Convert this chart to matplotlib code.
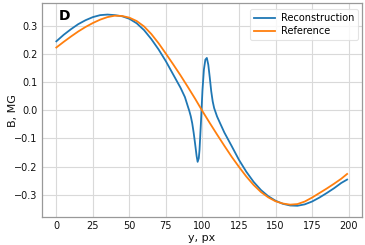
import matplotlib
matplotlib.use("Agg")
import matplotlib.pyplot as plt

# Reconstruction (blue)
rec_x = [0, 5, 10, 15, 20, 25, 30, 35, 40, 45, 50, 55, 60, 65, 70, 75, 80, 85, 88,
         90, 91, 92, 93, 94, 95, 96, 96.7, 97.5, 98, 99, 100, 101, 102, 103, 104,
         105, 106, 107, 108, 110, 112, 115, 120, 125, 130, 135, 140, 145, 150, 155,
         160, 165, 170, 175, 180, 185, 190, 195, 199]
rec_y = [0.245, 0.268, 0.288, 0.306, 0.320, 0.331, 0.338, 0.340, 0.338, 0.334, 0.325,
         0.309, 0.285, 0.253, 0.216, 0.174, 0.127, 0.080, 0.047,
         0.014, -0.002, -0.021, -0.046, -0.080, -0.120, -0.162, -0.183, -0.170,
         -0.140, -0.040, 0.070, 0.145, 0.180, 0.186, 0.162,
         0.117, 0.068, 0.032, 0.008, -0.022, -0.045, -0.079, -0.127, -0.176, -0.218,
         -0.254, -0.283, -0.305, -0.321, -0.332,
         -0.338, -0.339, -0.334, -0.324, -0.310, -0.294, -0.277, -0.258, -0.246]

# Reference (orange)
ref_x = [0, 5, 10, 15, 20, 25, 30, 35, 40, 45, 50, 55, 60, 65, 70, 75, 80, 85, 90,
         95, 100, 105, 110, 115, 120, 125, 130, 135, 140, 145, 150, 155, 160, 165,
         170, 175, 180, 185, 190, 195, 199]
ref_y = [0.223, 0.243, 0.262, 0.280, 0.296, 0.310, 0.322, 0.331, 0.336, 0.335, 0.329,
         0.317, 0.298, 0.271, 0.238, 0.201, 0.163, 0.124, 0.083,
         0.041, -0.003, -0.045, -0.086, -0.126, -0.165, -0.201, -0.235, -0.265,
         -0.290, -0.309, -0.323, -0.331, -0.335, -0.333,
         -0.324, -0.310, -0.294, -0.278, -0.261, -0.243, -0.226]

x_ticks = [0, 25, 50, 75, 100, 125, 150, 175, 200]
y_ticks = [-0.3, -0.2, -0.1, 0.0, 0.1, 0.2, 0.3]

plt.rcParams['font.family'] = ['DejaVu Sans']
fig = plt.figure(figsize=(3.65, 2.45), dpi=100)
ax = fig.add_axes([0.1143, 0.113, 0.8767, 0.8735])

ax.plot(rec_x, rec_y, color='#1f77b4', lw=1.3, label='Reconstruction')
ax.plot(ref_x, ref_y, color='#ff7f0e', lw=1.3, label='Reference')

ax.set_xticks(x_ticks)
ax.set_yticks(y_ticks)
ax.set_xticklabels([str(t) for t in x_ticks])
ax.set_yticklabels(['\u22120.3', '\u22120.2', '\u22120.1', '0.0', '0.1', '0.2', '0.3'])
ax.set_xlim(-10, 209)
ax.set_ylim(-0.38, 0.38)
ax.tick_params(length=0, labelsize=7, pad=3, colors='#111111')
ax.grid(True, color='#d9d9d9', lw=0.8)
ax.set_axisbelow(True)
for s in ax.spines.values():
    s.set_color('#999999')
    s.set_linewidth(0.9)

ax.set_xlabel('y, px', fontsize=8, labelpad=1, color='#111111')
ax.set_ylabel('B, MG', fontsize=8, color='#111111')
ax.yaxis.set_label_coords(-0.074, 0.5)
ax.text(0.053, 0.975, 'D', transform=ax.transAxes, fontsize=10, fontweight='bold',
        va='top', ha='left')

leg = ax.legend(loc='upper right', fontsize=7, frameon=True, handlelength=2.2,
                borderpad=0.4, labelspacing=0.3, handletextpad=0.6,
                borderaxespad=0.3, bbox_to_anchor=(0.9975, 0.9855))
leg.get_frame().set_edgecolor('#dddddd')
leg.get_frame().set_linewidth(0.8)

fig.savefig('out.png', dpi=100)
